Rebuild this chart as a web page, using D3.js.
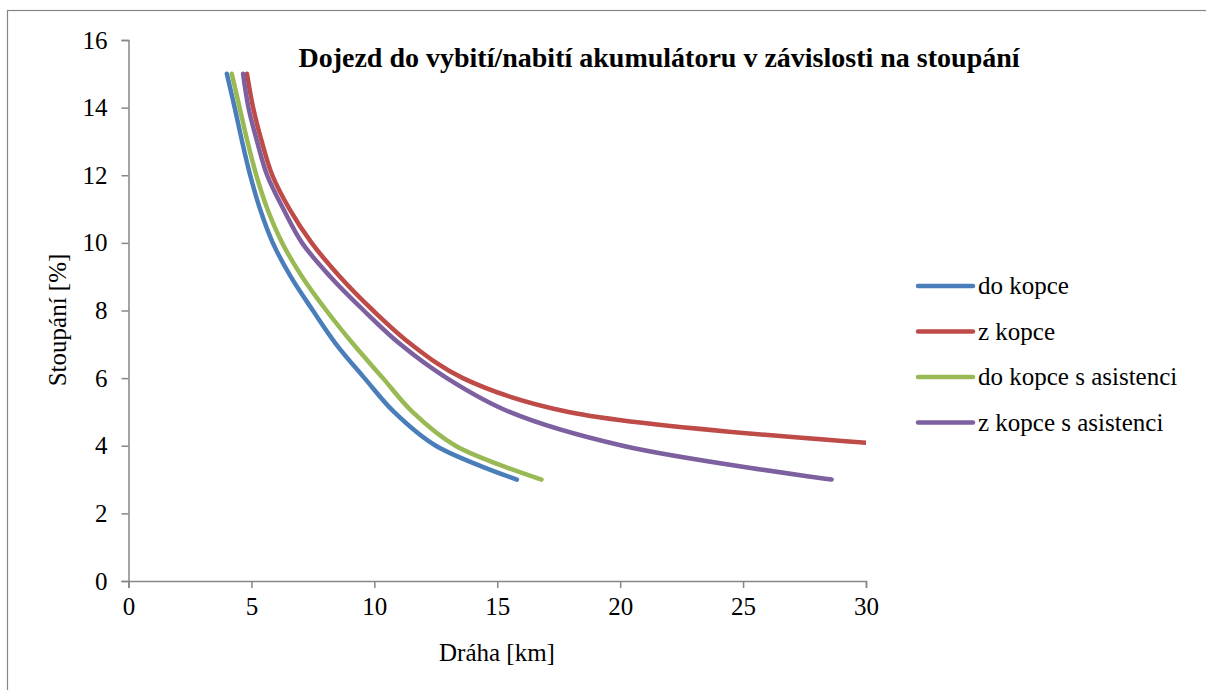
<!DOCTYPE html>
<html>
<head>
<meta charset="utf-8">
<script src="https://cdn.jsdelivr.net/npm/d3@7"></script>
<style>
    body { margin: 0; background: #fff; }
    svg { display: block; }
</style>
</head>
<body>
<svg id="LineChart"></svg>
<script>

// Stoupani [%] (y) for each measured point
var stoupani = [15, 14, 13, 12, 11, 10, 9, 8, 7, 6, 5, 4, 3]

// Draha [km] (x)
var doKopce          = [4.0, 4.32, 4.62, 4.95, 5.35, 5.87, 6.6, 7.5, 8.45, 9.6, 10.8, 12.5, 15.8]
var zKopce           = [4.82, 5.07, 5.42, 5.85, 6.55, 7.45, 8.6, 9.95, 11.5, 13.6, 17.9, 31.7]
var doKopceAsistenci = [4.2, 4.52, 4.84, 5.2, 5.65, 6.25, 7.06, 8.05, 9.15, 10.35, 11.55, 13.3, 16.8]
var zKopceAsistenci  = [4.66, 4.88, 5.23, 5.64, 6.3, 7.06, 8.21, 9.57, 11.06, 12.95, 15.5, 20.1, 28.6]

var seriesNames  = ["do kopce", "z kopce", "do kopce s asistenci", "z kopce s asistenci"]
var seriesColors = ["#4a7ebb", "#be4b48", "#98b954", "#7d60a0"]
var xTicks = [0, 5, 10, 15, 20, 25, 30]
var yTicks = [0, 2, 4, 6, 8, 10, 12, 14, 16]

var dimensions = {
    width: 1206,
    height: 690,
    margin: {
        top: 40,
        bottom: 109,
        left: 128.5,
        right: 340
    }
}

var series = [doKopce, zKopce, doKopceAsistenci, zKopceAsistenci].map((xs, i) => ({
    name: seriesNames[i],
    color: seriesColors[i],
    points: xs.map((x, j) => ({ x: x, y: stoupani[j] }))
}))

var font = "'Liberation Serif', 'Times New Roman', serif"

var svg = d3.select("#LineChart")
            .attr("width", dimensions.width)
            .attr("height", dimensions.height)
            .style("font-family", font)

// outer chart frame
svg.append("rect")
   .attr("x", 7.5)
   .attr("y", 10.5)
   .attr("width", 1220)
   .attr("height", 700)
   .attr("fill", "none")
   .attr("stroke", "#868686")
   .attr("stroke-width", 1.2)

var xScale = d3.scaleLinear()
               .domain([0, 30])
               .range([dimensions.margin.left, dimensions.width - dimensions.margin.right])

var yScale = d3.scaleLinear()
               .domain([0, 16])
               .range([dimensions.height - dimensions.margin.bottom, dimensions.margin.top])

svg.append("clipPath")
   .attr("id", "plotClip")
   .append("rect")
   .attr("x", xScale(0))
   .attr("y", yScale(16) - 5)
   .attr("width", xScale(30) - xScale(0))
   .attr("height", yScale(0) - yScale(16) + 5)

var xAxisGen = d3.axisBottom(xScale).tickValues(xTicks).tickSize(7).tickPadding(9)
var xAxis = svg.append("g")
               .attr("transform", `translate(0, ${yScale(0)})`)
               .call(xAxisGen)

var yAxisGen = d3.axisLeft(yScale).tickValues(yTicks).tickSize(7).tickPadding(14)
var yAxis = svg.append("g")
               .attr("transform", `translate(${xScale(0)}, 0)`)
               .call(yAxisGen)

svg.selectAll(".domain, .tick line")
   .attr("stroke", "#868686")
   .attr("stroke-width", 1.5)

svg.selectAll(".tick text")
   .attr("fill", "black")
   .style("font-family", font)
   .style("font-size", "25px")

var lineGen = d3.line()
                .x(d => xScale(d.x))
                .y(d => yScale(d.y))
                .curve(d3.curveCatmullRom.alpha(0.5))

svg.append("g")
   .attr("clip-path", "url(#plotClip)")
   .selectAll("path")
   .data(series)
   .enter()
   .append("path")
   .attr("d", d => lineGen(d.points))
   .attr("fill", "none")
   .attr("stroke", d => d.color)
   .attr("stroke-width", 4.5)
   .attr("stroke-linecap", "round")
   .attr("stroke-linejoin", "round")

var title = svg.append("text")
               .attr("x", 659)
               .attr("y", 67)
               .attr("text-anchor", "middle")
               .style("font-size", "28px")
               .style("font-weight", "bold")
               .text("Dojezd do vybití/nabití akumulátoru v závislosti na stoupání")

var xAxisText = svg.append("text")
                   .attr("x", 497)
                   .attr("y", 661)
                   .attr("text-anchor", "middle")
                   .style("font-size", "25px")
                   .text("Dráha [km]")

var yAxisText = svg.append("text")
                   .attr("transform", "rotate(-90)")
                   .attr("x", -320)
                   .attr("y", 66)
                   .attr("text-anchor", "middle")
                   .style("font-size", "25px")
                   .text("Stoupání [%]")

var legend = svg.append("g")
                .selectAll("g")
                .data(series)
                .enter()
                .append("g")
                .attr("transform", (d, i) => `translate(918, ${286 + i * 45.5})`)

legend.append("line")
      .attr("x1", 0)
      .attr("x2", 55)
      .attr("stroke", d => d.color)
      .attr("stroke-width", 4.5)
      .attr("stroke-linecap", "round")

legend.append("text")
      .attr("x", 60)
      .attr("y", 8)
      .style("font-size", "25px")
      .text(d => d.name)

</script>
</body>
</html>
